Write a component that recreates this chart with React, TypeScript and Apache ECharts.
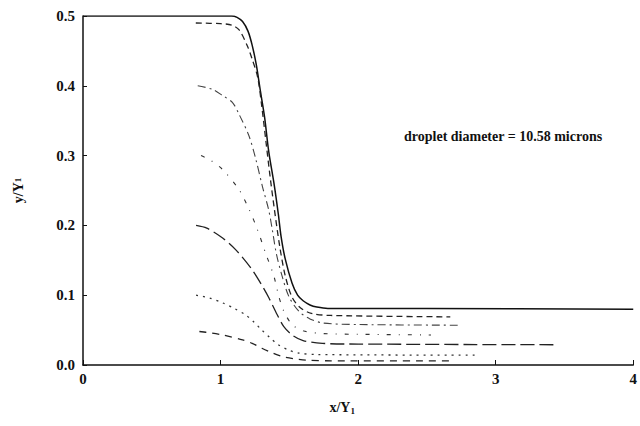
import React, { useEffect, useRef } from "react";
import * as echarts from "echarts";

const xTicks = [0, 1, 2, 3, 4];
const yTicks = [0.0, 0.1, 0.2, 0.3, 0.4, 0.5];

const solidCurve: number[][] = [
  [0, 0.5], [1.08, 0.5], [1.12, 0.498], [1.16, 0.492], [1.2, 0.478], [1.23, 0.458],
  [1.26, 0.43], [1.29, 0.392], [1.32, 0.355], [1.35, 0.306], [1.39, 0.258], [1.42, 0.216],
  [1.44, 0.184], [1.47, 0.152], [1.52, 0.117], [1.56, 0.1], [1.6, 0.092], [1.65, 0.086],
  [1.7, 0.083], [1.78, 0.081], [2.5, 0.081], [4.0, 0.08],
];
const curve049: number[][] = [
  [0.82, 0.49], [1.0, 0.489], [1.08, 0.487], [1.135, 0.48], [1.195, 0.457], [1.23, 0.438],
  [1.27, 0.412], [1.3, 0.37], [1.33, 0.32], [1.36, 0.27], [1.39, 0.225], [1.43, 0.17],
  [1.47, 0.128], [1.52, 0.097], [1.58, 0.082], [1.66, 0.074], [1.8, 0.071], [2.67, 0.069],
];
const curve040: number[][] = [
  [0.834, 0.4], [0.94, 0.395], [1.015, 0.386], [1.087, 0.376], [1.135, 0.359], [1.207, 0.328],
  [1.256, 0.295], [1.304, 0.256], [1.35, 0.222], [1.376, 0.194], [1.405, 0.16], [1.448, 0.127],
  [1.497, 0.098], [1.569, 0.077], [1.65, 0.066], [1.75, 0.06], [2.0, 0.058], [2.73, 0.057],
];
const curve030: number[][] = [
  [0.858, 0.3], [0.93, 0.293], [1.015, 0.28], [1.135, 0.251], [1.207, 0.223], [1.268, 0.194],
  [1.328, 0.16], [1.388, 0.127], [1.424, 0.098], [1.46, 0.077], [1.52, 0.058], [1.6, 0.049],
  [1.75, 0.045], [2.0, 0.044], [2.53, 0.043],
];
const curve020: number[][] = [
  [0.822, 0.2], [0.9, 0.196], [1.015, 0.182], [1.111, 0.165], [1.22, 0.139], [1.292, 0.117],
  [1.352, 0.096], [1.412, 0.072], [1.46, 0.055], [1.52, 0.043], [1.6, 0.035], [1.74, 0.031],
  [2.0, 0.03], [3.42, 0.029],
];
const curve010: number[][] = [
  [0.822, 0.1], [0.92, 0.096], [1.015, 0.089], [1.1, 0.081], [1.18, 0.072], [1.24, 0.062],
  [1.3, 0.05], [1.36, 0.039], [1.42, 0.029], [1.5, 0.021], [1.57, 0.017], [1.7, 0.015],
  [2.88, 0.014],
];
const curve005: number[][] = [
  [0.846, 0.048], [0.93, 0.046], [1.015, 0.043], [1.16, 0.036], [1.23, 0.031], [1.3, 0.024],
  [1.38, 0.017], [1.45, 0.012], [1.53, 0.009], [1.62, 0.007], [1.8, 0.006], [2.66, 0.006],
];

const annotation = "droplet diameter = 10.58 microns";
const font = "'Liberation Serif', 'Times New Roman', serif";

export default function App() {
  const ref = useRef<HTMLDivElement>(null);
  useEffect(() => {
    if (!ref.current) return;
    const chart = echarts.init(ref.current, null, { renderer: "svg" });
    const mk = (data: number[][], type: any, width: number, color: string) => ({
      type: "line",
      data,
      showSymbol: false,
      symbol: "none",
      smooth: 0.3,
      lineStyle: { type, width, color },
      silent: true,
    });
    chart.setOption({
      animation: false,
      backgroundColor: "#ffffff",
      grid: { left: 83, right: 4, top: 16, bottom: 61 },
      xAxis: {
        type: "value",
        min: xTicks[0],
        max: xTicks[xTicks.length - 1],
        interval: 1,
        axisLine: { show: true, lineStyle: { color: "#111", width: 1.5 } },
        axisTick: { show: true, inside: true, length: 5, lineStyle: { color: "#111" } },
        splitLine: { show: false },
        axisLabel: { color: "#111", fontFamily: font, fontSize: 15, fontWeight: "bold", margin: 6 },
        name: "x/Y{sub|1}",
        nameLocation: "middle",
        nameGap: 35,
        nameTextStyle: {
          color: "#111", fontFamily: font, fontSize: 14, fontWeight: "bold",
          padding: [0, 32, 0, 0],
          rich: { sub: { fontSize: 9, fontFamily: font, fontWeight: "bold", verticalAlign: "bottom", padding: [6, 0, 0, 0] } },
        },
      },
      yAxis: {
        type: "value",
        min: yTicks[0],
        max: yTicks[yTicks.length - 1],
        interval: 0.1,
        axisLine: { show: true, lineStyle: { color: "#111", width: 1.5 } },
        axisTick: { show: true, inside: true, length: 4, lineStyle: { color: "#111" } },
        splitLine: { show: false },
        axisLabel: {
          color: "#111", fontFamily: font, fontSize: 15, fontWeight: "bold", margin: 8,
          formatter: (v: number) => v.toFixed(1),
        },
        name: "y/Y{sub|1}",
        nameLocation: "middle",
        nameGap: 58,
        nameRotate: 90,
        nameTextStyle: {
          color: "#111", fontFamily: font, fontSize: 14, fontWeight: "bold",
          rich: { sub: { fontSize: 9, fontFamily: font, fontWeight: "bold" } },
        },
      },
      graphic: [
        {
          type: "text",
          left: 404,
          top: 129,
          style: { text: annotation, fill: "#111", font: `bold 14px ${font}` },
        },
      ],
      series: [
        mk(solidCurve, "solid", 1.5, "#111"),
        mk(curve049, [6, 4], 1.3, "#222"),
        mk(curve040, [8, 4, 2, 4], 1.1, "#444"),
        mk(curve030, [4, 8, 1, 8], 1.1, "#333"),
        mk(curve020, [14, 5], 1.3, "#222"),
        mk(curve010, [2, 5], 1.3, "#333"),
        mk(curve005, [7, 6], 1.3, "#222"),
      ],
    });
    return () => chart.dispose();
  }, []);
  return (
    <div
      ref={ref}
      style={{ position: "absolute", left: 0, top: 0, width: 640, height: 426 }}
    />
  );
}
